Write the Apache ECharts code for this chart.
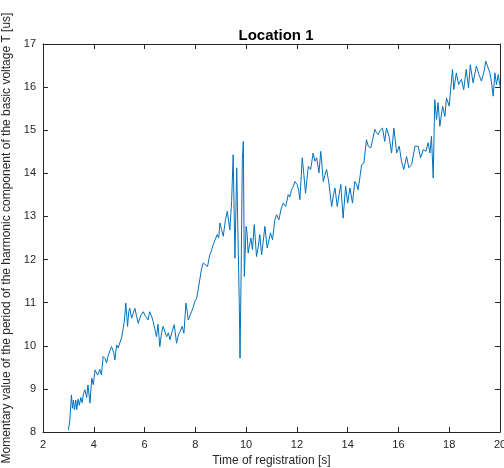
<!DOCTYPE html>
<html>
<head>
<meta charset="utf-8">
<script src="https://cdn.jsdelivr.net/npm/echarts@6/dist/echarts.min.js"></script>
<style>
html,body{margin:0;padding:0;background:#fff;}
#chart{width:504px;height:468px;}
</style>
</head>
<body>
<div id="chart"></div>
<script>
var titleText = "Location 1";
var xAxisName = "Time of registration [s]";
var yAxisName = "Momentary value of the period of the harmonic component of the basic voltage T [us]";

var xTicks = [2, 4, 6, 8, 10, 12, 14, 16, 18, 20];
var yTicks = [8, 9, 10, 11, 12, 13, 14, 15, 16, 17];

var times = [
3.00,3.06,3.12,3.16,3.20,3.24,3.29,3.33,3.38,3.43,3.49,3.54,3.60,3.65,3.72,3.77,3.85,3.92,3.98,4.05,
4.15,4.24,4.30,4.37,4.45,4.50,4.58,4.70,4.78,4.83,4.90,4.96,5.03,5.10,5.15,5.21,5.26,5.30,5.33,5.38,
5.42,5.49,5.55,5.62,5.68,5.75,5.85,5.95,6.02,6.08,6.14,6.20,6.27,6.34,6.40,6.47,6.53,6.60,6.67,6.73,
6.80,6.87,6.94,7.00,7.07,7.17,7.26,7.33,7.40,7.48,7.55,7.63,7.68,7.72,7.85,7.92,7.98,8.05,8.11,8.18,
8.25,8.31,8.38,8.48,8.57,8.63,8.70,8.77,8.86,8.92,8.97,9.03,9.10,9.18,9.26,9.31,9.36,9.43,9.49,9.56,
9.63,9.69,9.73,9.76,9.80,9.85,9.89,9.93,10.00,10.04,10.08,10.14,10.19,10.25,10.32,10.41,10.48,10.54,10.61,10.67,
10.74,10.83,10.90,10.96,11.04,11.13,11.20,11.29,11.37,11.46,11.56,11.66,11.72,11.79,11.86,11.92,12.01,12.07,12.12,12.21,
12.27,12.34,12.45,12.54,12.64,12.71,12.78,12.87,12.94,13.04,13.10,13.17,13.26,13.37,13.44,13.50,13.59,13.66,13.73,13.82,
13.92,14.00,14.09,14.19,14.28,14.35,14.41,14.48,14.55,14.64,14.74,14.81,14.91,15.00,15.07,15.13,15.20,15.28,15.37,15.46,
15.53,15.63,15.73,15.82,15.93,16.03,16.12,16.21,16.32,16.41,16.52,16.65,16.72,16.78,16.87,16.98,17.08,17.17,17.24,17.30,
17.37,17.43,17.50,17.56,17.63,17.74,17.83,17.89,18.00,18.06,18.13,18.18,18.28,18.37,18.48,18.57,18.67,18.76,18.83,18.94,
19.07,19.17,19.27,19.36,19.44,19.53,19.60,19.66,19.73,19.80,19.86,19.93,20.00
];

var periods = [
8.04,8.30,8.86,8.55,8.74,8.51,8.74,8.52,8.76,8.62,8.80,8.68,8.90,8.98,8.80,9.09,8.67,9.25,9.10,9.44,
9.32,9.45,9.32,9.75,9.70,9.60,9.80,9.98,9.85,9.67,10.02,9.95,9.98,10.20,10.37,10.60,10.99,10.70,10.45,10.80,
10.87,10.64,10.75,10.87,10.70,10.52,10.70,10.79,10.70,10.72,10.60,10.79,10.70,10.56,10.40,10.21,10.50,9.98,10.30,10.45,
10.41,10.21,10.30,10.14,10.30,10.49,10.06,10.25,10.33,10.45,10.29,10.99,10.80,10.60,10.79,10.90,11.03,11.10,11.30,11.55,
11.80,11.92,11.88,11.84,12.11,12.20,12.34,12.30,12.58,12.50,12.85,12.70,12.54,12.90,13.12,12.90,12.69,13.35,14.43,12.03,
14.13,12.23,11.00,9.71,11.50,14.32,14.74,11.61,12.77,12.60,12.15,12.35,12.50,12.23,12.81,12.07,12.30,12.58,12.11,12.40,
12.77,12.27,12.45,12.62,12.46,12.92,13.04,12.92,13.15,13.31,13.23,13.51,13.45,13.62,13.70,13.81,13.74,13.60,13.39,14.36,
14.00,13.54,14.16,14.09,14.47,14.28,14.36,14.01,14.51,13.81,13.95,14.09,13.78,13.23,13.50,13.66,13.23,13.50,13.74,12.96,
13.70,13.31,13.66,13.31,13.81,13.75,13.62,13.90,14.20,14.24,14.78,14.63,14.59,14.82,15.02,14.95,14.90,15.00,15.05,14.74,
15.05,14.86,14.47,15.05,14.47,14.63,14.28,14.09,14.39,14.13,14.20,14.63,14.60,14.63,14.36,14.55,14.51,14.71,14.47,14.86,
13.89,15.71,15.25,15.64,15.09,15.56,15.32,15.75,15.56,15.98,16.41,15.94,16.33,16.06,16.18,15.94,16.41,15.98,16.52,16.10,
16.49,16.29,16.14,16.33,16.60,16.45,16.33,16.14,15.79,16.33,16.06,16.29,16.02
];

var seriesData = times.map(function (t, i) { return [t, periods[i]]; });

var axisColor = '#262626';
var fontFam = '"Liberation Sans", Arial, Helvetica, sans-serif';

function baseX(show) {
  return {
    type: 'value',
    min: xTicks[0], max: xTicks[xTicks.length - 1], interval: 2,
    axisLine: { show: true, onZero: false, lineStyle: { color: axisColor, width: 1 } },
    axisTick: { show: true, inside: true, length: 5, lineStyle: { color: axisColor } },
    axisLabel: { show: show, color: axisColor, fontSize: 11, fontFamily: fontFam, margin: 7 },
    splitLine: { show: false }
  };
}
function baseY(show) {
  return {
    type: 'value',
    min: yTicks[0], max: yTicks[yTicks.length - 1], interval: 1,
    axisLine: { show: true, onZero: false, lineStyle: { color: axisColor, width: 1 } },
    axisTick: { show: true, inside: true, length: 5, lineStyle: { color: axisColor } },
    axisLabel: { show: show, color: axisColor, fontSize: 11, fontFamily: fontFam, margin: 7 },
    splitLine: { show: false }
  };
}

var xBottom = baseX(true);
xBottom.position = 'bottom';
xBottom.name = xAxisName;
xBottom.nameLocation = 'middle';
xBottom.nameGap = 22;
xBottom.nameTextStyle = { color: axisColor, fontSize: 12, fontFamily: fontFam };
var xTop = baseX(false);
xTop.position = 'top';

var yLeft = baseY(true);
yLeft.position = 'left';
yLeft.name = yAxisName;
yLeft.nameLocation = 'middle';
yLeft.nameGap = 21;
yLeft.nameTextStyle = { color: axisColor, fontSize: 12, fontFamily: fontFam };
var yRight = baseY(false);
yRight.position = 'right';

var chart = echarts.init(document.getElementById('chart'), null, { renderer: 'canvas' });
chart.setOption({
  animation: false,
  backgroundColor: '#ffffff',
  title: {
    text: titleText, left: 271, top: 23, textAlign: 'center',
    textStyle: { color: '#000', fontSize: 15, fontWeight: 'bold', fontFamily: fontFam }
  },
  grid: { left: 43, right: 4, top: 44, bottom: 36, containLabel: false, outerBoundsMode: 'none' },
  xAxis: [xBottom, xTop],
  yAxis: [yLeft, yRight],
  series: [{
    type: 'line',
    xAxisIndex: 0, yAxisIndex: 0,
    data: seriesData,
    showSymbol: false,
    symbol: 'none',
    sampling: null,
    lineStyle: { color: '#0072BD', width: 1 },
    itemStyle: { color: '#0072BD' }
  }]
});
</script>
</body>
</html>
